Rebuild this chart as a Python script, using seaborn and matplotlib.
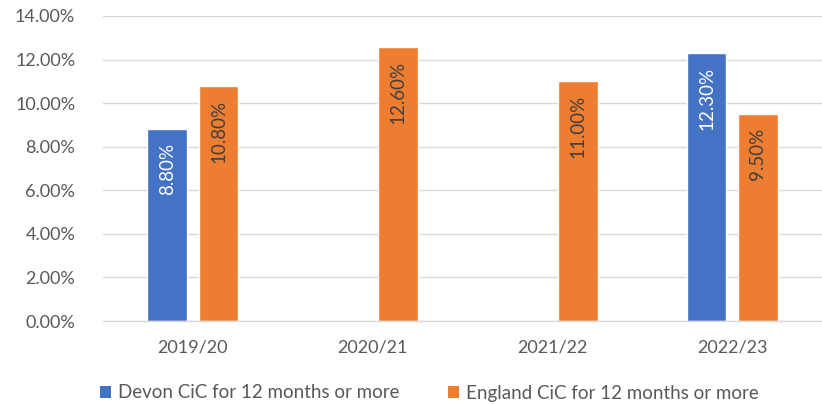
import numpy as np
import pandas as pd
import matplotlib
matplotlib.use("Agg")
import matplotlib.pyplot as plt
import seaborn as sns
from matplotlib.patches import Patch
from matplotlib.ticker import FuncFormatter

categories = ["2019/20", "2020/21", "2021/22", "2022/23"]
devon = [8.8, np.nan, np.nan, 12.3]
england = [10.8, 12.6, 11.0, 9.5]
series_names = ["Devon CiC for 12 months or more", "England CiC for 12 months or more"]
colors = ["#4472C4", "#ED7D31"]

df = pd.DataFrame({
    "year": categories * 2,
    "value": devon + england,
    "series": [series_names[0]] * 4 + [series_names[1]] * 4,
})

sns.set_theme(style="white")
plt.rcParams["font.family"] = ["Lato", "DejaVu Sans"]

fig = plt.figure(figsize=(8.22, 4.04), dpi=100)
ax = fig.add_axes([103 / 822, 1 - 321 / 404, (822 - 103) / 822, (321 - 16) / 404])

sns.barplot(data=df, x="year", y="value", hue="series", order=categories,
            hue_order=series_names, palette=colors, width=0.571, gap=0.222,
            saturation=1, legend=False, ax=ax, errorbar=None)

ax.set_ylim(0, 14)
ax.set_xlim(-0.5, 3.5)
ax.set_yticks(np.arange(0, 14.01, 2))
ax.yaxis.set_major_formatter(FuncFormatter(lambda v, p: f"{v:.2f}%"))
ax.grid(axis="y", color="#D9D9D9", linewidth=1)
ax.set_axisbelow(True)
for s in ["top", "right", "left"]:
    ax.spines[s].set_visible(False)
ax.spines["bottom"].set_color("#D9D9D9")
ax.spines["bottom"].set_linewidth(1)
ax.set_xlabel("")
ax.set_ylabel("")
ax.tick_params(axis="both", length=0, labelsize=13, colors="#595959")
ax.tick_params(axis="x", pad=13)
ax.tick_params(axis="y", pad=20)

label_colors = ["white", "#404040"]
for ci, cont in enumerate(ax.containers):
    for bar in cont:
        h = bar.get_height()
        if not np.isfinite(h) or h == 0:
            continue
        ax.annotate(f"{h:.2f}%", (bar.get_x() + bar.get_width() / 2, h),
                    xytext=(0, -10), textcoords="offset points",
                    rotation=90, ha="center", va="top",
                    fontsize=13.5, color=label_colors[ci])

handles = [Patch(facecolor=c, edgecolor="none") for c in colors]
fig.legend(handles, series_names, loc="center left", bbox_to_anchor=(100 / 822, 1 - 393 / 404),
           ncol=2, frameon=False, fontsize=13.5, labelcolor="#595959",
           handlelength=0.6, handleheight=0.6, handletextpad=0.35, columnspacing=2.6,
           borderaxespad=0, borderpad=0)

fig.savefig("out.png", dpi=100)
